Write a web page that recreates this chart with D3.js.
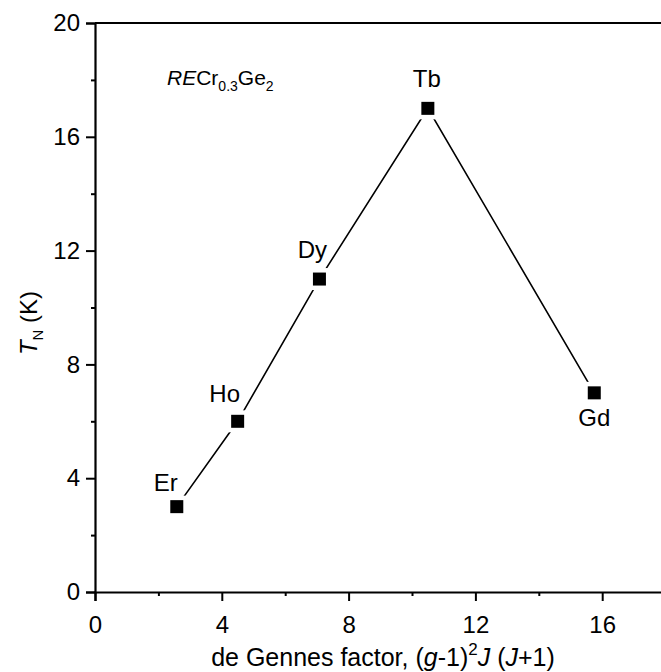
<!DOCTYPE html>
<html><head><meta charset="utf-8">
<script src="https://cdn.jsdelivr.net/npm/d3@7"></script>
<style>body{margin:0;background:#fff}svg{display:block}text{font-family:Arial,"Liberation Sans",sans-serif;fill:#000}</style>
</head><body><svg id="c" width="661" height="672"></svg>
<script>
const elements = ["Er","Ho","Dy","Tb","Gd"];
const deGennes = [2.58, 4.5, 7.08, 10.5, 15.75];
const tN = [3, 6, 11, 17, 7];
const xMajor = [0,4,8,12,16];
const xMinor = [2,6,10,14];
const yMajor = [0,4,8,12,16,20];
const yMinor = [2,6,10,14,18];

const svg = d3.select("#c");
const x = d3.scaleLinear().domain([0,18]).range([95, 665.6]);
const y = d3.scaleLinear().domain([0,20]).range([592, 23]);
const FS = 24;
const LFS = 24;

// minor ticks
svg.append("g").attr("transform","translate(95,0)")
  .call(d3.axisLeft(y).tickValues(yMinor).tickSize(4).tickFormat(""))
  .call(g=>{g.select(".domain").remove();g.selectAll("line").attr("stroke-width",2);});
svg.append("g").attr("transform","translate(0,592)")
  .call(d3.axisBottom(x).tickValues(xMinor).tickSize(4).tickFormat(""))
  .call(g=>{g.select(".domain").remove();g.selectAll("line").attr("stroke-width",2);});
// major
svg.append("g").attr("transform","translate(95,0)")
  .call(d3.axisLeft(y).tickValues(yMajor).tickSize(9).tickPadding(6).tickFormat(d3.format("d")))
  .call(g=>{g.select(".domain").attr("stroke-width",2.2);g.selectAll("line").attr("stroke-width",2);
    g.selectAll("text").attr("font-size",FS).attr("font-family",null);});
svg.append("g").attr("transform","translate(0,592)")
  .call(d3.axisBottom(x).tickValues(xMajor).tickSize(9).tickPadding(15).tickFormat(d3.format("d")))
  .call(g=>{g.select(".domain").attr("stroke-width",2.2);g.selectAll("line").attr("stroke-width",2);
    g.selectAll("text").attr("font-size",FS).attr("font-family",null);});
// top border
svg.append("line").attr("x1",x(0)).attr("x2",661).attr("y1",y(20)).attr("y2",y(20))
  .attr("stroke","#000").attr("stroke-width",2.2);

const pts = deGennes.map((d,i)=>({x:d,y:tN[i],e:elements[i]}));
svg.append("path").datum(pts)
  .attr("d", d3.line().x(d=>x(d.x)).y(d=>y(d.y)))
  .attr("fill","none").attr("stroke","#000").attr("stroke-width",1.6);
// white halo for gaps
svg.selectAll("rect.h").data(pts).join("rect").attr("class","h")
  .attr("x",d=>x(d.x)-11).attr("y",d=>y(d.y)-11).attr("width",22).attr("height",22).attr("fill","#fff");
svg.selectAll("rect.m").data(pts).join("rect").attr("class","m")
  .attr("x",d=>x(d.x)-6.5).attr("y",d=>y(d.y)-6.5).attr("width",13).attr("height",13).attr("fill","#000");

const lblOff = {Er:[-11,-16],Ho:[-13,-19],Dy:[-7,-21],Tb:[-1,-21],Gd:[0,33]};
svg.selectAll("text.l").data(pts).join("text").attr("class","l")
  .attr("x",d=>x(d.x)+lblOff[d.e][0]).attr("y",d=>y(d.y)+lblOff[d.e][1])
  .attr("text-anchor","middle").attr("font-size",LFS).text(d=>d.e);

// annotation
const an = svg.append("text").attr("x",167).attr("y",85).attr("font-size",21);
an.append("tspan").attr("font-style","italic").text("RE");
an.append("tspan").text("Cr");
an.append("tspan").attr("font-size",14).attr("dy",6).text("0.3");
an.append("tspan").attr("dy",-6).text("Ge");
an.append("tspan").attr("font-size",14).attr("dy",6).text("2");

// x title
const xt = svg.append("text").attr("x",383).attr("y",666).attr("text-anchor","middle").attr("font-size",25);
xt.append("tspan").text("de Gennes factor, (");
xt.append("tspan").attr("font-style","italic").text("g");
xt.append("tspan").text("-1)");
xt.append("tspan").attr("font-size",17).attr("dy",-11).text("2");
xt.append("tspan").attr("dy",11).attr("font-style","italic").text("J");
xt.append("tspan").text(" (");
xt.append("tspan").attr("font-style","italic").text("J");
xt.append("tspan").text("+1)");

// y title
const yt = svg.append("text").attr("transform","translate(37,323) rotate(-90)").attr("text-anchor","middle").attr("font-size",24);
yt.append("tspan").attr("font-style","italic").text("T");
yt.append("tspan").attr("font-size",15).attr("dy",6).text("N");
yt.append("tspan").attr("dy",-6).text(" (K)");
</script></body></html>
